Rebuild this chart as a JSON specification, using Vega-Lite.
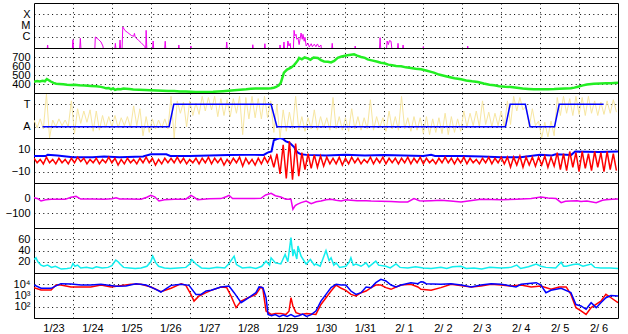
{
  "$schema": "https://vega.github.io/schema/vega-lite/v6.json",
  "padding": {"left": 0, "top": 2, "right": 11, "bottom": 0},
  "spacing": 0,
  "bounds": "flush",
  "config": {
    "view": {"stroke": "black", "strokeWidth": 1},
    "axis": {"labelFont": "Liberation Sans", "labelFontSize": 11, "labelColor": "black", "grid": true, "gridColor": "black", "gridDash": [1, 3.4], "gridOpacity": 1, "gridWidth": 1, "domain": false, "ticks": false, "labelOverlap": false},
    "axisY": {"labelPadding": 4, "minExtent": 33, "maxExtent": 33},
    "axisX": {"labels": false, "minExtent": 0, "maxExtent": 0, "labelPadding": 0}
  },
  "datasets": {
    "xray": [
      {"t":0,"f":5e-8},{"t":0.33,"f":5e-8},{"t":0.35,"f":1.85e-7},{"t":0.37,"f":5e-8},
      {"t":0.98,"f":5e-8},{"t":1.0,"f":5.5e-7},{"t":1.02,"f":5e-8},
      {"t":1.17,"f":5e-8},{"t":1.19,"f":7.3e-7},{"t":1.21,"f":5e-8},
      {"t":1.56,"f":5e-8},{"t":1.575,"f":9.5e-7},{"t":1.65,"f":6e-7},{"t":1.72,"f":3.5e-7},{"t":1.77,"f":1.5e-7},{"t":1.79,"f":5e-8},
      {"t":2.07,"f":5e-8},{"t":2.09,"f":2.6e-7},{"t":2.11,"f":5e-8},
      {"t":2.19,"f":5e-8},{"t":2.21,"f":5.1e-7},{"t":2.23,"f":5e-8},
      {"t":2.26,"f":5e-8},{"t":2.28,"f":7.4e-6},{"t":2.34,"f":3.5e-6},{"t":2.41,"f":2.3e-6},{"t":2.5,"f":1.3e-6},{"t":2.56,"f":1.1e-6},{"t":2.58,"f":2e-6},{"t":2.6,"f":9e-7},{"t":2.68,"f":5e-7},{"t":2.75,"f":3e-7},{"t":2.85,"f":1.3e-7},{"t":2.86,"f":5e-8},
      {"t":2.87,"f":5e-8},{"t":2.88,"f":3.7e-6},{"t":2.9,"f":5e-8},
      {"t":3.04,"f":5e-8},{"t":3.06,"f":4.2e-7},{"t":3.08,"f":5e-8},
      {"t":3.35,"f":5e-8},{"t":3.37,"f":4.0e-7},{"t":3.39,"f":5e-8},
      {"t":3.70,"f":5e-8},{"t":3.72,"f":1.85e-7},{"t":3.74,"f":5e-8},
      {"t":4.01,"f":5e-8},{"t":4.03,"f":1.5e-7},{"t":4.05,"f":5e-8},
      {"t":4.93,"f":5e-8},{"t":4.95,"f":3.4e-7},{"t":4.97,"f":5e-8},
      {"t":5.60,"f":5e-8},{"t":5.62,"f":1.95e-7},{"t":5.64,"f":5e-8},
      {"t":5.91,"f":5e-8},{"t":5.93,"f":2.4e-7},{"t":5.95,"f":5e-8},
      {"t":6.30,"f":5e-8},{"t":6.32,"f":1.85e-7},{"t":6.34,"f":5e-8},{"t":6.40,"f":5e-8},{"t":6.42,"f":3.4e-7},{"t":6.44,"f":5e-8},{"t":6.50,"f":5e-8},{"t":6.52,"f":4.2e-7},{"t":6.55,"f":1.5e-7},{"t":6.58,"f":2.6e-7},{"t":6.60,"f":5e-8},{"t":6.66,"f":5e-8},{"t":6.68,"f":3.7e-6},{"t":6.70,"f":1.2e-6},{"t":6.73,"f":1.66e-6},{"t":6.75,"f":6e-7},{"t":6.78,"f":7.8e-7},{"t":6.81,"f":2e-7},{"t":6.86,"f":2.15e-6},{"t":6.89,"f":6e-7},{"t":6.91,"f":1.66e-6},{"t":6.94,"f":4e-7},{"t":6.96,"f":9e-7},{"t":6.99,"f":1.5e-7},{"t":7.04,"f":2.6e-7},{"t":7.07,"f":1.2e-7},{"t":7.12,"f":2.4e-7},{"t":7.15,"f":1.3e-7},{"t":7.2,"f":2.2e-7},{"t":7.24,"f":1.3e-7},{"t":7.28,"f":2.3e-7},{"t":7.32,"f":1.2e-7},{"t":7.37,"f":1.85e-7},{"t":7.39,"f":5e-8},
      {"t":7.64,"f":5e-8},{"t":7.66,"f":2.6e-7},{"t":7.68,"f":5e-8},
      {"t":8.23,"f":5e-8},{"t":8.25,"f":1.5e-7},{"t":8.27,"f":5e-8},
      {"t":8.87,"f":5e-8},{"t":8.89,"f":8.3e-7},{"t":8.91,"f":5e-8},{"t":9.05,"f":5e-8},{"t":9.07,"f":4.2e-7},{"t":9.1,"f":2e-7},{"t":9.13,"f":4.5e-7},{"t":9.17,"f":4.0e-7},{"t":9.2,"f":5e-8},{"t":9.33,"f":5e-8},{"t":9.35,"f":2.6e-7},{"t":9.37,"f":5e-8},{"t":9.46,"f":5e-8},{"t":9.48,"f":1.85e-7},{"t":9.5,"f":5e-8},
      {"t":9.98,"f":5e-8},{"t":10.0,"f":1.35e-7},{"t":10.02,"f":5e-8},
      {"t":11.12,"f":5e-8},{"t":11.14,"f":1.5e-7},{"t":11.16,"f":5e-8},{"t":15,"f":5e-8}
    ],
    "sw": [
      {"t":0.0,"v":426},{"t":0.08,"v":432},{"t":0.15,"v":428},{"t":0.22,"v":436},{"t":0.28,"v":430},{"t":0.33,"v":455},{"t":0.37,"v":445},{"t":0.42,"v":430},{"t":0.5,"v":412},{"t":0.57,"v":403},{"t":0.65,"v":400},{"t":0.75,"v":396},{"t":0.85,"v":392},{"t":0.95,"v":389},{"t":1.05,"v":392},{"t":1.15,"v":386},{"t":1.3,"v":384},{"t":1.46,"v":378},{"t":1.6,"v":374},{"t":1.72,"v":368},{"t":1.8,"v":360},{"t":1.85,"v":352},{"t":1.92,"v":356},{"t":1.98,"v":341},{"t":2.03,"v":352},{"t":2.08,"v":334},{"t":2.15,"v":344},{"t":2.23,"v":341},{"t":2.3,"v":350},{"t":2.36,"v":348},{"t":2.45,"v":344},{"t":2.55,"v":340},{"t":2.7,"v":336},{"t":2.85,"v":333},{"t":3.0,"v":330},{"t":3.15,"v":328},{"t":3.3,"v":325},{"t":3.45,"v":323},{"t":3.6,"v":321},{"t":3.75,"v":318},{"t":3.9,"v":316},{"t":4.03,"v":314},{"t":4.15,"v":312},{"t":4.29,"v":311},{"t":4.45,"v":312},{"t":4.6,"v":313},{"t":4.72,"v":316},{"t":4.85,"v":320},{"t":5.0,"v":326},{"t":5.14,"v":330},{"t":5.3,"v":336},{"t":5.45,"v":342},{"t":5.57,"v":348},{"t":5.7,"v":350},{"t":5.85,"v":351},{"t":6.0,"v":350},{"t":6.09,"v":352},{"t":6.16,"v":358},{"t":6.22,"v":367},{"t":6.29,"v":385},{"t":6.34,"v":414},{"t":6.38,"v":470},{"t":6.42,"v":526},{"t":6.5,"v":560},{"t":6.6,"v":581},{"t":6.68,"v":610},{"t":6.73,"v":637},{"t":6.78,"v":665},{"t":6.81,"v":690},{"t":6.88,"v":675},{"t":6.95,"v":695},{"t":7.03,"v":685},{"t":7.1,"v":670},{"t":7.18,"v":695},{"t":7.29,"v":689},{"t":7.37,"v":665},{"t":7.45,"v":650},{"t":7.55,"v":648},{"t":7.63,"v":640},{"t":7.71,"v":656},{"t":7.8,"v":690},{"t":7.9,"v":705},{"t":7.96,"v":711},{"t":8.05,"v":720},{"t":8.14,"v":725},{"t":8.22,"v":730},{"t":8.3,"v":715},{"t":8.4,"v":700},{"t":8.5,"v":690},{"t":8.57,"v":674},{"t":8.7,"v":660},{"t":8.8,"v":650},{"t":8.91,"v":637},{"t":9.0,"v":630},{"t":9.1,"v":615},{"t":9.2,"v":608},{"t":9.3,"v":600},{"t":9.43,"v":596},{"t":9.55,"v":585},{"t":9.68,"v":578},{"t":9.8,"v":570},{"t":9.94,"v":563},{"t":10.07,"v":550},{"t":10.2,"v":535},{"t":10.27,"v":526},{"t":10.4,"v":505},{"t":10.5,"v":495},{"t":10.63,"v":481},{"t":10.8,"v":465},{"t":10.97,"v":452},{"t":11.1,"v":440},{"t":11.25,"v":430},{"t":11.4,"v":422},{"t":11.55,"v":405},{"t":11.7,"v":392},{"t":11.82,"v":385},{"t":11.95,"v":375},{"t":12.1,"v":370},{"t":12.25,"v":367},{"t":12.4,"v":358},{"t":12.55,"v":350},{"t":12.7,"v":345},{"t":12.84,"v":341},{"t":13.0,"v":342},{"t":13.2,"v":343},{"t":13.36,"v":344},{"t":13.5,"v":347},{"t":13.65,"v":350},{"t":13.79,"v":352},{"t":13.88,"v":360},{"t":13.97,"v":370},{"t":14.1,"v":385},{"t":14.2,"v":395},{"t":14.38,"v":403},{"t":14.55,"v":405},{"t":14.7,"v":408},{"t":14.82,"v":407},{"t":14.9,"v":410},{"t":15.0,"v":414}
    ],
    "sector": [
      {"t":0.22,"v":-1},{"t":3.47,"v":-1},{"t":3.59,"v":1},{"t":6.09,"v":1},{"t":6.24,"v":-1},{"t":12.11,"v":-1},{"t":12.23,"v":1},{"t":12.62,"v":1},{"t":12.74,"v":-1},{"t":13.37,"v":-1},{"t":13.49,"v":1},{"t":14.63,"v":1}
    ],
    "noise": [
      {"t":0.00,"bz":2,"ph":-0.4},{"t":0.08,"bz":-2,"ph":-1.1},{"t":0.16,"bz":1,"ph":-0.3},{"t":0.24,"bz":-3,"ph":-1.2},{"t":0.32,"bz":3,"ph":1.9},{"t":0.40,"bz":-2,"ph":-2.0},{"t":0.48,"bz":1,"ph":-0.4},{"t":0.56,"bz":-3,"ph":-1.0},{"t":0.64,"bz":2,"ph":-0.3},{"t":0.72,"bz":-2,"ph":-0.9},
      {"t":0.80,"bz":1,"ph":-0.4},{"t":0.88,"bz":-3,"ph":-1.0},{"t":0.96,"bz":2,"ph":1.3},{"t":1.04,"bz":-2,"ph":-1.6},{"t":1.12,"bz":3,"ph":0.6},{"t":1.20,"bz":-1,"ph":-0.7},{"t":1.28,"bz":2,"ph":0.4},{"t":1.36,"bz":-3,"ph":-0.6},{"t":1.44,"bz":1,"ph":0.5},{"t":1.52,"bz":-2,"ph":-1.4},
      {"t":1.60,"bz":2,"ph":0.4},{"t":1.68,"bz":-3,"ph":-1.3},{"t":1.76,"bz":1,"ph":0.0},{"t":1.84,"bz":-2,"ph":-1.1},{"t":1.92,"bz":3,"ph":-0.1},{"t":2.00,"bz":-2,"ph":-1.0},{"t":2.08,"bz":2,"ph":0.0},{"t":2.16,"bz":-4,"ph":-1.1},{"t":2.24,"bz":1,"ph":-0.2},{"t":2.32,"bz":-3,"ph":-0.9},
      {"t":2.40,"bz":2,"ph":-0.1},{"t":2.48,"bz":-2,"ph":-1.1},{"t":2.56,"bz":1,"ph":0.85},{"t":2.64,"bz":-3,"ph":-0.9},{"t":2.72,"bz":2,"ph":0.6},{"t":2.80,"bz":-2,"ph":-1.8},{"t":2.88,"bz":3,"ph":-0.1},{"t":2.96,"bz":-2,"ph":-1.5},{"t":3.04,"bz":2,"ph":-0.3},{"t":3.12,"bz":-4,"ph":-1.2},
      {"t":3.20,"bz":1,"ph":-0.4},{"t":3.28,"bz":-3,"ph":-1.1},{"t":3.36,"bz":2,"ph":-0.3},{"t":3.44,"bz":-2,"ph":-1.2},{"t":3.52,"bz":2,"ph":1.7},{"t":3.60,"bz":-2,"ph":-2.0},{"t":3.68,"bz":3,"ph":1.3},{"t":3.76,"bz":-2,"ph":0.2},{"t":3.84,"bz":2,"ph":1.2},{"t":3.92,"bz":-3,"ph":-1.0},
      {"t":4.00,"bz":1,"ph":1.3},{"t":4.08,"bz":-2,"ph":0.0},{"t":4.16,"bz":2,"ph":1.1},{"t":4.24,"bz":-3,"ph":0.1},{"t":4.32,"bz":2,"ph":1.7},{"t":4.40,"bz":-2,"ph":0.4},{"t":4.48,"bz":3,"ph":1.6},{"t":4.56,"bz":-3,"ph":0.5},{"t":4.64,"bz":2,"ph":1.7},{"t":4.72,"bz":-2,"ph":-0.1},
      {"t":4.80,"bz":2,"ph":1.5},{"t":4.88,"bz":-4,"ph":0.0},{"t":4.96,"bz":1,"ph":1.4},{"t":5.04,"bz":-3,"ph":-0.1},{"t":5.12,"bz":2,"ph":1.5},{"t":5.20,"bz":-2,"ph":0.2},{"t":5.28,"bz":3,"ph":1.7},{"t":5.36,"bz":-5,"ph":-1.7},{"t":5.44,"bz":2,"ph":1.6},{"t":5.52,"bz":-3,"ph":-0.3},
      {"t":5.60,"bz":1,"ph":1.7},{"t":5.68,"bz":-4,"ph":-0.2},{"t":5.76,"bz":2,"ph":1.5},{"t":5.84,"bz":-3,"ph":-0.3},{"t":5.92,"bz":3,"ph":1.7},{"t":6.00,"bz":-2,"ph":-0.2},{"t":6.08,"bz":4,"ph":1.3},{"t":6.16,"bz":-6,"ph":-1.5},{"t":6.24,"bz":6,"ph":1.0},{"t":6.32,"bz":-12,"ph":-2.0},
      {"t":6.40,"bz":14,"ph":0.5},{"t":6.48,"bz":-16,"ph":-1.4},{"t":6.56,"bz":17,"ph":0.3},{"t":6.64,"bz":-17,"ph":-1.2},{"t":6.72,"bz":15,"ph":1.7},{"t":6.80,"bz":-14,"ph":-1.3},{"t":6.88,"bz":7,"ph":-0.1},{"t":6.96,"bz":-8,"ph":-1.4},{"t":7.04,"bz":6,"ph":-0.2},{"t":7.12,"bz":-7,"ph":-1.2},
      {"t":7.20,"bz":5,"ph":0.5},{"t":7.28,"bz":-6,"ph":-1.3},{"t":7.36,"bz":4,"ph":-0.1},{"t":7.44,"bz":-5,"ph":-1.1},{"t":7.52,"bz":3,"ph":-0.2},{"t":7.60,"bz":-3,"ph":-1.3},{"t":7.68,"bz":2,"ph":1.6},{"t":7.76,"bz":-3,"ph":-1.2},{"t":7.84,"bz":3,"ph":-0.1},{"t":7.92,"bz":-4,"ph":-1.3},
      {"t":8.00,"bz":2,"ph":-0.2},{"t":8.08,"bz":-3,"ph":-1.4},{"t":8.16,"bz":3,"ph":0.6},{"t":8.24,"bz":-2,"ph":-1.2},{"t":8.32,"bz":2,"ph":-0.1},{"t":8.40,"bz":-3,"ph":-1.3},{"t":8.48,"bz":1,"ph":-0.2},{"t":8.56,"bz":-2,"ph":-1.2},{"t":8.64,"bz":3,"ph":1.4},{"t":8.72,"bz":-3,"ph":-1.3},
      {"t":8.80,"bz":2,"ph":-0.1},{"t":8.88,"bz":-2,"ph":-1.1},{"t":8.96,"bz":3,"ph":-0.2},{"t":9.04,"bz":-3,"ph":-1.4},{"t":9.12,"bz":2,"ph":0.4},{"t":9.20,"bz":-2,"ph":-1.2},{"t":9.28,"bz":2,"ph":-0.1},{"t":9.36,"bz":-3,"ph":-1.3},{"t":9.44,"bz":2,"ph":1.7},{"t":9.52,"bz":-2,"ph":-1.2},
      {"t":9.60,"bz":3,"ph":-0.2},{"t":9.68,"bz":-3,"ph":-1.4},{"t":9.76,"bz":2,"ph":-0.1},{"t":9.84,"bz":-2,"ph":-1.3},{"t":9.92,"bz":3,"ph":-0.2},{"t":10.00,"bz":-3,"ph":-1.6},{"t":10.08,"bz":2,"ph":-0.1},{"t":10.16,"bz":-2,"ph":-1.7},{"t":10.24,"bz":1,"ph":-0.3},{"t":10.32,"bz":-3,"ph":-1.5},
      {"t":10.40,"bz":2,"ph":-0.2},{"t":10.48,"bz":-2,"ph":-1.6},{"t":10.56,"bz":3,"ph":0.2},{"t":10.64,"bz":-2,"ph":-1.7},{"t":10.72,"bz":2,"ph":-0.1},{"t":10.80,"bz":-3,"ph":-1.5},{"t":10.88,"bz":2,"ph":-0.3},{"t":10.96,"bz":-2,"ph":-1.4},{"t":11.04,"bz":3,"ph":0.4},{"t":11.12,"bz":-3,"ph":-1.0},
      {"t":11.20,"bz":2,"ph":0.2},{"t":11.28,"bz":-2,"ph":-0.9},{"t":11.36,"bz":1,"ph":0.4},{"t":11.44,"bz":-3,"ph":-1.0},{"t":11.52,"bz":2,"ph":1.3},{"t":11.60,"bz":-2,"ph":-0.8},{"t":11.68,"bz":3,"ph":0.3},{"t":11.76,"bz":-3,"ph":-1.0},{"t":11.84,"bz":2,"ph":0.2},{"t":11.92,"bz":-2,"ph":-0.9},
      {"t":12.00,"bz":3,"ph":0.4},{"t":12.08,"bz":-3,"ph":-1.0},{"t":12.16,"bz":3,"ph":1.3},{"t":12.24,"bz":-6,"ph":-0.8},{"t":12.32,"bz":3,"ph":1.7},{"t":12.40,"bz":-4,"ph":0.4},{"t":12.48,"bz":4,"ph":1.6},{"t":12.56,"bz":-6,"ph":0.5},{"t":12.64,"bz":3,"ph":0.85},{"t":12.72,"bz":-4,"ph":-1.0},
      {"t":12.80,"bz":3,"ph":0.6},{"t":12.88,"bz":-5,"ph":-0.9},{"t":12.96,"bz":3,"ph":-0.5},{"t":13.04,"bz":-4,"ph":-2.0},{"t":13.12,"bz":4,"ph":-0.6},{"t":13.20,"bz":-6,"ph":-1.9},{"t":13.28,"bz":3,"ph":-0.5},{"t":13.36,"bz":-5,"ph":-1.8},{"t":13.44,"bz":7,"ph":1.6},{"t":13.52,"bz":-8,"ph":0.0},
      {"t":13.60,"bz":6,"ph":1.7},{"t":13.68,"bz":-9,"ph":0.2},{"t":13.76,"bz":8,"ph":1.5},{"t":13.84,"bz":-6,"ph":0.0},{"t":13.92,"bz":7,"ph":1.7},{"t":14.00,"bz":-10,"ph":0.1},{"t":14.08,"bz":8,"ph":1.6},{"t":14.16,"bz":-7,"ph":0.0},{"t":14.24,"bz":6,"ph":1.7},{"t":14.32,"bz":-9,"ph":0.2},
      {"t":14.40,"bz":8,"ph":1.3},{"t":14.48,"bz":-6,"ph":0.0},{"t":14.56,"bz":7,"ph":1.2},{"t":14.64,"bz":-10,"ph":0.1},{"t":14.72,"bz":8,"ph":1.3},{"t":14.80,"bz":-8,"ph":0.2},{"t":14.88,"bz":6,"ph":1.4},{"t":14.96,"bz":-9,"ph":0.3}
    ],
    "bt": [
      {"t":0,"v":4},{"t":0.3,"v":4},{"t":0.35,"v":5},{"t":0.6,"v":4.5},{"t":1.0,"v":3},{"t":1.5,"v":3},{"t":1.8,"v":3.5},{"t":2.2,"v":3},{"t":2.8,"v":3.5},{"t":3.0,"v":5.5},{"t":3.4,"v":5.5},{"t":3.5,"v":4},{"t":4.0,"v":4},{"t":4.5,"v":4.5},{"t":5.0,"v":4.8},{"t":5.5,"v":5},{"t":5.9,"v":5},{"t":6.0,"v":7},{"t":6.1,"v":8},{"t":6.16,"v":18},{"t":6.24,"v":19},{"t":6.32,"v":20},{"t":6.4,"v":19},{"t":6.47,"v":17},{"t":6.55,"v":16},{"t":6.6,"v":14.7},{"t":6.68,"v":12},{"t":6.73,"v":9},{"t":6.78,"v":7},{"t":6.86,"v":5.5},{"t":7.0,"v":5},{"t":7.5,"v":4.5},{"t":8.0,"v":5},{"t":8.5,"v":4.5},{"t":9.0,"v":4.8},{"t":9.5,"v":4.5},{"t":10.0,"v":4},{"t":10.2,"v":5},{"t":10.3,"v":4},{"t":11.0,"v":4},{"t":11.5,"v":3.5},{"t":12.0,"v":3},{"t":12.5,"v":3},{"t":12.85,"v":4.5},{"t":13.0,"v":5},{"t":13.3,"v":4.5},{"t":13.4,"v":5.5},{"t":13.8,"v":5},{"t":13.9,"v":8},{"t":14.5,"v":7.5},{"t":15.0,"v":8}
    ],
    "dst": [
      {"t":0,"v":2},{"t":0.1,"v":-5},{"t":0.18,"v":-20},{"t":0.3,"v":-12},{"t":0.44,"v":-9},{"t":0.6,"v":-8},{"t":0.8,"v":-9},{"t":0.95,"v":5},{"t":1.08,"v":11},{"t":1.2,"v":-7},{"t":1.5,"v":-6},{"t":1.8,"v":-8},{"t":2.0,"v":-5},{"t":2.11,"v":2},{"t":2.2,"v":-6},{"t":2.4,"v":-7},{"t":2.75,"v":-8},{"t":2.9,"v":5},{"t":3.0,"v":18},{"t":3.1,"v":8},{"t":3.21,"v":-20},{"t":3.35,"v":-12},{"t":3.6,"v":-9},{"t":3.9,"v":-8},{"t":4.03,"v":18},{"t":4.1,"v":8},{"t":4.2,"v":-11},{"t":4.5,"v":-5},{"t":4.8,"v":-4},{"t":4.95,"v":10},{"t":5.01,"v":18},{"t":5.1,"v":-4},{"t":5.5,"v":-4},{"t":5.83,"v":-2},{"t":5.95,"v":20},{"t":6.09,"v":31},{"t":6.2,"v":15},{"t":6.34,"v":7},{"t":6.47,"v":-9},{"t":6.6,"v":-9},{"t":6.65,"v":-75},{"t":6.71,"v":-50},{"t":6.76,"v":-42},{"t":6.86,"v":-31},{"t":6.99,"v":-20},{"t":7.12,"v":-38},{"t":7.25,"v":-25},{"t":7.37,"v":-20},{"t":7.5,"v":-12},{"t":7.63,"v":-9},{"t":7.76,"v":-15},{"t":7.89,"v":-20},{"t":8.01,"v":-12},{"t":8.14,"v":-15},{"t":8.3,"v":-18},{"t":8.53,"v":-18},{"t":8.66,"v":-20},{"t":8.9,"v":-22},{"t":9.17,"v":-24},{"t":9.4,"v":-27},{"t":9.6,"v":-26},{"t":9.76,"v":-4},{"t":9.9,"v":-18},{"t":10.0,"v":-20},{"t":10.2,"v":-18},{"t":10.45,"v":-15},{"t":10.7,"v":-20},{"t":10.97,"v":-27},{"t":11.2,"v":-18},{"t":11.48,"v":-9},{"t":11.74,"v":-10},{"t":12.0,"v":-11},{"t":12.4,"v":-8},{"t":12.77,"v":-4},{"t":12.9,"v":2},{"t":13.02,"v":7},{"t":13.2,"v":0},{"t":13.41,"v":-4},{"t":13.54,"v":-31},{"t":13.65,"v":-22},{"t":13.79,"v":-20},{"t":13.95,"v":-18},{"t":14.05,"v":-24},{"t":14.2,"v":-20},{"t":14.44,"v":-31},{"t":14.6,"v":-15},{"t":14.69,"v":-11},{"t":14.85,"v":-8},{"t":15.0,"v":-7}
    ],
    "cy": [
      {"t":0,"v":24},{"t":0.05,"v":27},{"t":0.1,"v":20},{"t":0.18,"v":14},{"t":0.25,"v":12},{"t":0.35,"v":14},{"t":0.45,"v":10},{"t":0.55,"v":12},{"t":0.7,"v":7},{"t":0.85,"v":8},{"t":0.95,"v":9},{"t":1.0,"v":17},{"t":1.05,"v":12},{"t":1.12,"v":14},{"t":1.2,"v":9},{"t":1.35,"v":10},{"t":1.5,"v":8},{"t":1.6,"v":11},{"t":1.75,"v":9},{"t":1.9,"v":10},{"t":2.0,"v":13},{"t":2.1,"v":23},{"t":2.16,"v":20},{"t":2.21,"v":16},{"t":2.3,"v":10},{"t":2.45,"v":9},{"t":2.6,"v":8},{"t":2.75,"v":9},{"t":2.9,"v":12},{"t":3.0,"v":20},{"t":3.05,"v":30},{"t":3.13,"v":18},{"t":3.2,"v":12},{"t":3.35,"v":9},{"t":3.5,"v":8},{"t":3.7,"v":9},{"t":3.9,"v":10},{"t":4.0,"v":16},{"t":4.05,"v":24},{"t":4.16,"v":16},{"t":4.3,"v":9},{"t":4.5,"v":8},{"t":4.7,"v":10},{"t":4.9,"v":9},{"t":5.0,"v":16},{"t":5.14,"v":30},{"t":5.2,"v":15},{"t":5.35,"v":9},{"t":5.55,"v":10},{"t":5.7,"v":8},{"t":5.85,"v":12},{"t":5.96,"v":21},{"t":6.05,"v":14},{"t":6.09,"v":27},{"t":6.2,"v":18},{"t":6.34,"v":16},{"t":6.45,"v":33},{"t":6.52,"v":20},{"t":6.6,"v":63},{"t":6.65,"v":30},{"t":6.68,"v":42},{"t":6.75,"v":25},{"t":6.78,"v":48},{"t":6.86,"v":30},{"t":6.95,"v":20},{"t":6.99,"v":16},{"t":7.1,"v":24},{"t":7.2,"v":14},{"t":7.24,"v":16},{"t":7.35,"v":12},{"t":7.5,"v":40},{"t":7.58,"v":22},{"t":7.63,"v":27},{"t":7.7,"v":14},{"t":7.76,"v":18},{"t":7.85,"v":10},{"t":8.01,"v":12},{"t":8.1,"v":20},{"t":8.14,"v":27},{"t":8.2,"v":14},{"t":8.27,"v":16},{"t":8.4,"v":12},{"t":8.53,"v":18},{"t":8.6,"v":11},{"t":8.78,"v":21},{"t":8.85,"v":14},{"t":9.04,"v":12},{"t":9.15,"v":9},{"t":9.3,"v":16},{"t":9.4,"v":10},{"t":9.6,"v":9},{"t":9.8,"v":11},{"t":10.0,"v":9},{"t":10.2,"v":8},{"t":10.45,"v":10},{"t":10.6,"v":8},{"t":10.75,"v":11},{"t":10.97,"v":12},{"t":11.1,"v":8},{"t":11.3,"v":9},{"t":11.5,"v":7},{"t":11.7,"v":10},{"t":12.0,"v":9},{"t":12.25,"v":10},{"t":12.4,"v":14},{"t":12.5,"v":8},{"t":12.7,"v":11},{"t":12.9,"v":16},{"t":13.02,"v":12},{"t":13.15,"v":10},{"t":13.4,"v":9},{"t":13.54,"v":19},{"t":13.6,"v":12},{"t":13.67,"v":12},{"t":13.85,"v":15},{"t":13.97,"v":16},{"t":14.1,"v":12},{"t":14.31,"v":16},{"t":14.4,"v":10},{"t":14.56,"v":9},{"t":14.8,"v":9},{"t":15,"v":8}
    ],
    "eb": [
      {"t":0,"v":8511},{"t":0.18,"v":4365},{"t":0.44,"v":4365},{"t":0.565,"v":7079},{"t":0.69,"v":11220},{"t":0.95,"v":10471},{"t":1.21,"v":8511},{"t":1.46,"v":8511},{"t":1.72,"v":10000},{"t":2.11,"v":6607},{"t":2.36,"v":7079},{"t":2.62,"v":11220},{"t":2.88,"v":8511},{"t":3.13,"v":3548},{"t":3.26,"v":2042},{"t":3.52,"v":7943},{"t":3.78,"v":10000},{"t":3.98,"v":7943},{"t":4.16,"v":1259},{"t":4.29,"v":1259},{"t":4.42,"v":2512},{"t":4.55,"v":2884},{"t":4.8,"v":5754},{"t":5.01,"v":6918},{"t":5.14,"v":1778},{"t":5.32,"v":229},{"t":5.45,"v":457},{"t":5.7,"v":1778},{"t":5.78,"v":5754},{"t":5.88,"v":5012},{"t":5.96,"v":631},{"t":6.01,"v":21},{"t":6.1,"v":16},{"t":6.2,"v":20},{"t":6.3,"v":13},{"t":6.4,"v":18},{"t":6.5,"v":14},{"t":6.6,"v":20},{"t":6.7,"v":13},{"t":6.8,"v":16},{"t":6.9,"v":22},{"t":7.0,"v":14},{"t":7.12,"v":20},{"t":7.24,"v":42},{"t":7.37,"v":316},{"t":7.5,"v":1259},{"t":7.63,"v":5012},{"t":7.76,"v":10000},{"t":7.89,"v":8511},{"t":8.01,"v":8511},{"t":8.14,"v":2512},{"t":8.27,"v":1259},{"t":8.4,"v":1778},{"t":8.53,"v":5754},{"t":8.66,"v":5012},{"t":8.78,"v":13804},{"t":8.91,"v":27542},{"t":9.04,"v":19498},{"t":9.17,"v":8511},{"t":9.3,"v":5754},{"t":9.43,"v":8511},{"t":9.68,"v":13804},{"t":9.86,"v":11220},{"t":9.94,"v":16982},{"t":10.0,"v":15849},{"t":10.07,"v":11220},{"t":10.45,"v":10000},{"t":10.71,"v":11220},{"t":10.97,"v":8511},{"t":11.23,"v":5754},{"t":11.48,"v":8511},{"t":11.74,"v":11220},{"t":12.0,"v":10000},{"t":12.38,"v":5754},{"t":12.51,"v":10000},{"t":12.9,"v":13804},{"t":13.02,"v":8511},{"t":13.15,"v":1778},{"t":13.28,"v":2884},{"t":13.54,"v":4365},{"t":13.79,"v":1778},{"t":13.92,"v":158},{"t":14.05,"v":117},{"t":14.18,"v":59},{"t":14.31,"v":229},{"t":14.44,"v":83},{"t":14.56,"v":229},{"t":14.69,"v":631},{"t":14.82,"v":1000},{"t":15.0,"v":912}
    ],
    "er": [
      {"t":0,"v":5012},{"t":0.18,"v":3090},{"t":0.44,"v":3090},{"t":0.565,"v":8511},{"t":0.69,"v":8511},{"t":0.95,"v":5754},{"t":1.46,"v":5754},{"t":1.72,"v":8511},{"t":1.98,"v":5754},{"t":2.49,"v":10000},{"t":2.75,"v":10000},{"t":3.005,"v":5754},{"t":3.26,"v":2188},{"t":3.52,"v":4365},{"t":3.78,"v":11220},{"t":3.9,"v":7943},{"t":4.03,"v":1259},{"t":4.11,"v":316},{"t":4.24,"v":912},{"t":4.42,"v":1778},{"t":4.55,"v":2884},{"t":4.8,"v":5754},{"t":4.95,"v":5012},{"t":5.06,"v":912},{"t":5.19,"v":83},{"t":5.32,"v":316},{"t":5.5,"v":631},{"t":5.7,"v":1259},{"t":5.83,"v":5754},{"t":5.88,"v":3548},{"t":5.96,"v":42},{"t":6.09,"v":21},{"t":6.2,"v":25},{"t":6.34,"v":25},{"t":6.47,"v":21},{"t":6.55,"v":40},{"t":6.6,"v":631},{"t":6.65,"v":117},{"t":6.73,"v":30},{"t":6.86,"v":21},{"t":7.0,"v":25},{"t":7.24,"v":21},{"t":7.37,"v":158},{"t":7.5,"v":631},{"t":7.63,"v":2512},{"t":7.76,"v":8511},{"t":7.89,"v":4365},{"t":8.01,"v":2884},{"t":8.14,"v":1259},{"t":8.27,"v":912},{"t":8.4,"v":1778},{"t":8.53,"v":2512},{"t":8.66,"v":5012},{"t":8.78,"v":8511},{"t":8.91,"v":8511},{"t":9.04,"v":5012},{"t":9.17,"v":3548},{"t":9.3,"v":5754},{"t":9.43,"v":8511},{"t":9.68,"v":10000},{"t":9.86,"v":5754},{"t":9.94,"v":3548},{"t":10.2,"v":2884},{"t":10.45,"v":5012},{"t":10.71,"v":10000},{"t":11.23,"v":5754},{"t":11.48,"v":6918},{"t":11.74,"v":10000},{"t":12.0,"v":8511},{"t":12.25,"v":6918},{"t":12.51,"v":8511},{"t":12.77,"v":5754},{"t":13.02,"v":6918},{"t":13.28,"v":3548},{"t":13.49,"v":5754},{"t":13.67,"v":5754},{"t":13.79,"v":1259},{"t":13.92,"v":83},{"t":14.05,"v":42},{"t":14.18,"v":21},{"t":14.31,"v":83},{"t":14.56,"v":316},{"t":14.69,"v":1259},{"t":14.82,"v":631},{"t":15.0,"v":229}
    ]
  },
  "vconcat": [
    {
      "width": 584, "height": 45,
      "data": {"name": "xray"},
      "mark": {"type": "line", "color": "#ee00ee", "strokeWidth": 1, "clip": true},
      "encoding": {
        "x": {"field": "t", "type": "quantitative", "title": null, "scale": {"domain": [0, 15], "nice": false, "zero": false}, "axis": {"values": [1,2,3,4,5,6,7,8,9,10,11,12,13,14]}},
        "y": {"field": "f", "type": "quantitative", "title": null, "scale": {"type": "log", "domain": [1e-7, 1e-3], "nice": false}, "axis": {"values": [1e-6, 1e-5, 1e-4], "labelExpr": "datum.value > 5e-5 ? 'X' : (datum.value > 5e-6 ? 'M' : 'C')"}}
      }
    },
    {
      "width": 584, "height": 45,
      "data": {"name": "sw"},
      "mark": {"type": "line", "color": "#22ee22", "strokeWidth": 2.5, "clip": true},
      "encoding": {
        "x": {"field": "t", "type": "quantitative", "title": null, "scale": {"domain": [0, 15], "nice": false, "zero": false}, "axis": {"values": [1,2,3,4,5,6,7,8,9,10,11,12,13,14]}},
        "y": {"field": "v", "type": "quantitative", "title": null, "scale": {"domain": [300, 800], "nice": false, "zero": false}, "axis": {"values": [400, 500, 600, 700]}}
      }
    },
    {
      "width": 584, "height": 45,
      "layer": [
        {
          "data": {"name": "noise"},
          "mark": {"type": "line", "color": "#f7e6a0", "strokeWidth": 1, "clip": true},
          "encoding": {
            "x": {"field": "t", "type": "quantitative", "title": null, "scale": {"domain": [0, 15], "nice": false, "zero": false}, "axis": {"values": [1,2,3,4,5,6,7,8,9,10,11,12,13,14]}},
            "y": {"field": "ph", "type": "quantitative", "title": null, "scale": {"domain": [-2, 2], "nice": false, "zero": false}, "axis": {"values": [-1, 1], "labelExpr": "datum.value > 0 ? 'T' : 'A'"}}
          }
        },
        {
          "mark": {"type": "rule", "color": "#b80000", "strokeWidth": 1.5},
          "encoding": {"y": {"datum": 0}}
        },
        {
          "data": {"name": "sector"},
          "mark": {"type": "line", "color": "#0000ff", "strokeWidth": 1.5},
          "encoding": {
            "x": {"field": "t", "type": "quantitative", "title": null},
            "y": {"field": "v", "type": "quantitative", "title": null}
          }
        }
      ]
    },
    {
      "width": 584, "height": 45,
      "layer": [
        {
          "data": {"name": "bt"},
          "mark": {"type": "line", "color": "#0000ff", "strokeWidth": 2, "clip": true},
          "encoding": {
            "x": {"field": "t", "type": "quantitative", "title": null, "scale": {"domain": [0, 15], "nice": false, "zero": false}, "axis": {"values": [1,2,3,4,5,6,7,8,9,10,11,12,13,14]}},
            "y": {"field": "v", "type": "quantitative", "title": null, "scale": {"domain": [-20, 20], "nice": false, "zero": false}, "axis": {"values": [-10, 0, 10]}}
          }
        },
        {
          "data": {"name": "noise"},
          "mark": {"type": "line", "color": "#ff0000", "strokeWidth": 1.5, "clip": true},
          "encoding": {
            "x": {"field": "t", "type": "quantitative", "title": null},
            "y": {"field": "bz", "type": "quantitative", "title": null}
          }
        }
      ]
    },
    {
      "width": 584, "height": 45,
      "layer": [
        {
          "data": {"name": "dst"},
          "mark": {"type": "line", "color": "#ee00ee", "strokeWidth": 1.5, "clip": true},
          "encoding": {
            "x": {"field": "t", "type": "quantitative", "title": null, "scale": {"domain": [0, 15], "nice": false, "zero": false}, "axis": {"values": [1,2,3,4,5,6,7,8,9,10,11,12,13,14]}},
            "y": {"field": "v", "type": "quantitative", "title": null, "scale": {"domain": [-200, 100], "nice": false, "zero": false}, "axis": {"values": [-100, 0]}}
          }
        },
        {
          "mark": {"type": "rule", "color": "#b80000", "strokeWidth": 1.5},
          "encoding": {"y": {"datum": 0}}
        }
      ]
    },
    {
      "width": 584, "height": 45,
      "data": {"name": "cy"},
      "mark": {"type": "line", "color": "#11eeee", "strokeWidth": 1.5, "clip": true},
      "encoding": {
        "x": {"field": "t", "type": "quantitative", "title": null, "scale": {"domain": [0, 15], "nice": false, "zero": false}, "axis": {"values": [1,2,3,4,5,6,7,8,9,10,11,12,13,14]}},
        "y": {"field": "v", "type": "quantitative", "title": null, "scale": {"domain": [0, 80], "nice": false, "zero": false}, "axis": {"values": [20, 40, 60]}}
      }
    },
    {
      "width": 584, "height": 45,
      "layer": [
        {
          "mark": {"type": "rule", "color": "#b80000", "strokeWidth": 1.5, "strokeDash": [8, 3]},
          "encoding": {
            "x": {"datum": 0.05, "type": "quantitative", "title": null, "scale": {"domain": [0, 15], "nice": false, "zero": false}, "axis": {"values": [0,1,2,3,4,5,6,7,8,9,10,11,12,13,14], "labels": true, "labelFontSize": 11, "labelOffset": 19.5, "labelPadding": 4, "labelOverlap": false, "labelBound": false, "labelFlush": false, "minExtent": 17, "maxExtent": 17, "labelExpr": "['1/23','1/24','1/25','1/26','1/27','1/28','1/29','1/30','1/31','2/ 1','2/ 2','2/ 3','2/ 4','2/ 5','2/ 6'][datum.value]"}},
            "x2": {"datum": 15},
            "y": {"datum": 10000, "type": "quantitative", "title": null, "scale": {"type": "log", "domain": [10, 100000], "nice": false}, "axis": {"values": [100, 1000, 10000], "labelExpr": "datum.value > 5000 ? '10⁴' : (datum.value > 500 ? '10³' : '10²')"}}
          }
        },
        {
          "data": {"name": "er"},
          "mark": {"type": "line", "color": "#ff0000", "strokeWidth": 1.5, "clip": true},
          "encoding": {
            "x": {"field": "t", "type": "quantitative", "title": null},
            "y": {"field": "v", "type": "quantitative", "title": null}
          }
        },
        {
          "data": {"name": "eb"},
          "mark": {"type": "line", "color": "#0000ff", "strokeWidth": 1.5, "clip": true},
          "encoding": {
            "x": {"field": "t", "type": "quantitative", "title": null},
            "y": {"field": "v", "type": "quantitative", "title": null}
          }
        }
      ]
    }
  ]
}
